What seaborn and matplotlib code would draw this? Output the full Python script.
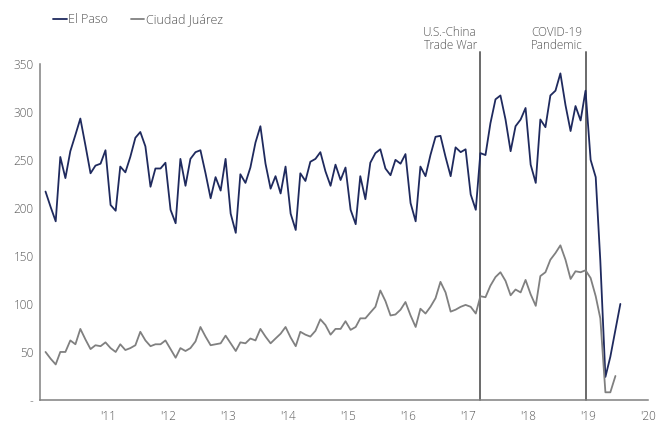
import pandas as pd
import numpy as np
import matplotlib
matplotlib.use('Agg')
import matplotlib.pyplot as plt
import seaborn as sns

# Monthly crossings (thousands)
el_paso = [217, 201, 186, 253, 231, 259, 276, 293, 265, 236, 244, 246,
           260, 203, 197, 243, 237, 253, 273, 279, 264, 222, 241, 241,
           247, 198, 184, 251, 223, 251, 258, 260, 236, 210, 232, 218,
           251, 194, 174, 235, 226, 242, 268, 285, 246, 220, 233, 215,
           243, 194, 177, 236, 228, 248, 251, 258, 238, 223, 245, 229,
           242, 198, 183, 233, 209, 247, 257, 261, 241, 234, 250, 246,
           256, 205, 186, 243, 233, 255, 274, 275, 253, 233, 263, 258,
           261, 214, 198, 257, 255, 288, 313, 317, 292, 259, 285, 292,
           304, 245, 226, 292, 284, 317, 322, 340, 307, 280, 306, 291,
           322, 250, 232, 145, 24, 45, 73, 100]
juarez = [50, 43, 37, 50, 50, 62, 58, 74, 63, 53, 57, 56,
          60, 54, 50, 58, 52, 54, 57, 71, 62, 56, 58, 58,
          62, 53, 44, 54, 51, 54, 61, 76, 66, 57, 58, 59,
          67, 59, 51, 60, 59, 64, 62, 74, 66, 59, 64, 69,
          76, 65, 56, 71, 68, 66, 72, 84, 78, 68, 74, 74,
          82, 73, 76, 85, 85, 91, 97, 114, 103, 88, 89, 94,
          102, 88, 76, 95, 90, 97, 106, 123, 112, 92, 94, 97,
          99, 97, 90, 108, 107, 119, 128, 133, 124, 109, 115, 112,
          125, 110, 98, 129, 133, 146, 153, 161, 146, 126, 134, 133,
          135, 127, 108, 85, 8, 8, 25]

months = pd.date_range('2009-12-01', periods=len(el_paso), freq='MS') + pd.Timedelta(days=14)

df = pd.concat([
    pd.DataFrame({'date': months, 'value': el_paso, 'city': 'El Paso'}),
    pd.DataFrame({'date': months[:len(juarez)], 'value': juarez, 'city': 'Ciudad Juárez'}),
])

events = {'U.S.-China\nTrade War': pd.Timestamp('2017-03-15'),
          'COVID-19\nPandemic': pd.Timestamp('2018-12-17')}

sns.set_style('white')
plt.rcParams['font.family'] = ['Open Sans', 'DejaVu Sans']
plt.rcParams['font.weight'] = 'light'

fig = plt.figure(figsize=(6.66, 4.23), dpi=100)
ax = fig.add_axes([0.0607, 0.0544, 0.9127, 0.7948])

sns.lineplot(data=df, x='date', y='value', hue='city', ax=ax,
             palette={'El Paso': '#1f2a5e', 'Ciudad Juárez': '#808080'},
             linewidth=1.3, legend=False)

# event markers
for label, d in events.items():
    ax.plot([d, d], [0, 362], color='#6a6a6a', linewidth=1.4, clip_on=False, zorder=1)
    ax.text(d - pd.Timedelta(days=20), 362.5, label, ha='right', va='bottom',
            fontsize=8.5, color='#555555', linespacing=0.95)

ax.set_xlim(pd.Timestamp('2009-11-14'), pd.Timestamp('2020-01-01'))
ax.set_ylim(0, 350)
ax.set_yticks(range(0, 351, 50))
ax.set_yticklabels(['-'] + [str(v) for v in range(50, 351, 50)])
xt = [pd.Timestamp(f'{y}-01-01') for y in range(2011, 2021)]
ax.set_xticks(xt)
ax.set_xticklabels([f"'{y % 100}" for y in range(2011, 2021)])
ax.set_xlabel('')
ax.set_ylabel('')

for s in ['top', 'right']:
    ax.spines[s].set_visible(False)
for s in ['left', 'bottom']:
    ax.spines[s].set_color('#808080')
    ax.spines[s].set_linewidth(1.1)
ax.tick_params(axis='both', direction='out', length=3, width=1, color='#808080',
               labelcolor='#595959', labelsize=8.5, pad=2)
ax.tick_params(axis='x', pad=4)

handles = [plt.Line2D([], [], color='#1f2a5e', linewidth=1.3),
           plt.Line2D([], [], color='#808080', linewidth=1.3)]
fig.legend(handles, ['El Paso', 'Ciudad Juárez'], loc='upper left',
           bbox_to_anchor=(0.063, 0.995), ncol=2, frameon=False, fontsize=9,
           handlelength=1.1, handletextpad=0.1, columnspacing=1.8,
           labelcolor='#555555')

fig.savefig('out.png', dpi=100)
